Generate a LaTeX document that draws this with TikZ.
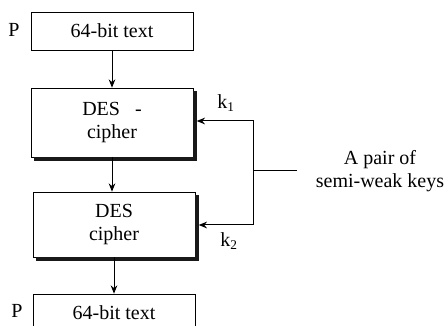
\documentclass[tikz,border=0pt]{standalone}
\usepackage{fontspec}
\setmainfont{Liberation Serif}
\usetikzlibrary{arrows.meta}
\begin{document}
\begin{tikzpicture}[x=0.6pt,y=-0.6pt,
    box/.style={draw,fill=white,align=center,minimum width=97.2pt,inner sep=2pt,font=\fontsize{12}{14}\selectfont},
    textbox/.style={box,minimum height=22.8pt},
    cipherbox/.style={box},
    heavy edge/.style={line width=2pt,draw=black!90},
    lbl/.style={font=\fontsize{12}{14}\selectfont},
    >={Stealth[length=5pt,width=4pt]}
]
\useasboundingbox (0,0) rectangle (448,326);

\node[textbox] (ptop) at (112,31) {64-bit text};
\node[lbl] (ptoplabel) at (14,30) {P};
\node[cipherbox,minimum height=41.4pt] (des1) at (112,122.5) {DES\ \ \ -\\cipher};
\node[cipherbox,minimum height=39pt] (des2) at (114,224.5) {DES\\cipher};
\node[textbox] (pbot) at (114,313) {64-bit text};
\node[lbl] (pbotlabel) at (17,311) {P};
\node[lbl,align=center] (keys) at (380,171) {A pair of\\semi-weak keys};
\node[lbl] (k1) at (226,103) {k\textsubscript{1}};
\node[lbl] (k2) at (229,241) {k\textsubscript{2}};

% heavy right and bottom edges of the cipher boxes
\draw[heavy edge] ([xshift=1pt,yshift=-2pt]des1.north east) -- ([xshift=1pt,yshift=-1pt]des1.south east) -- ([xshift=2pt,yshift=-1pt]des1.south west);
\draw[heavy edge] ([xshift=1pt,yshift=-2pt]des2.north east) -- ([xshift=1pt,yshift=-1pt]des2.south east) -- ([xshift=2pt,yshift=-1pt]des2.south west);

\coordinate (k1turn) at (253,121);
\coordinate (k2turn) at (253,225);
\coordinate (split) at (253,171);

\draw[semithick,->] (ptop) -- (des1.north);
\draw[semithick,->] (des1.south) -- (des1.south |- des2.north);
\draw[semithick,->] (des2.south) -- (des2.south |- pbot.north);
\draw[semithick,->] (split) -- (k1turn) -- ([xshift=2pt]des1.east |- k1turn);
\draw[semithick,->] (split) -- (k2turn) -- ([xshift=2pt]des2.east |- k2turn);
\draw[semithick,shorten <=8pt] (keys.west) -- (split);
\end{tikzpicture}
\end{document}
